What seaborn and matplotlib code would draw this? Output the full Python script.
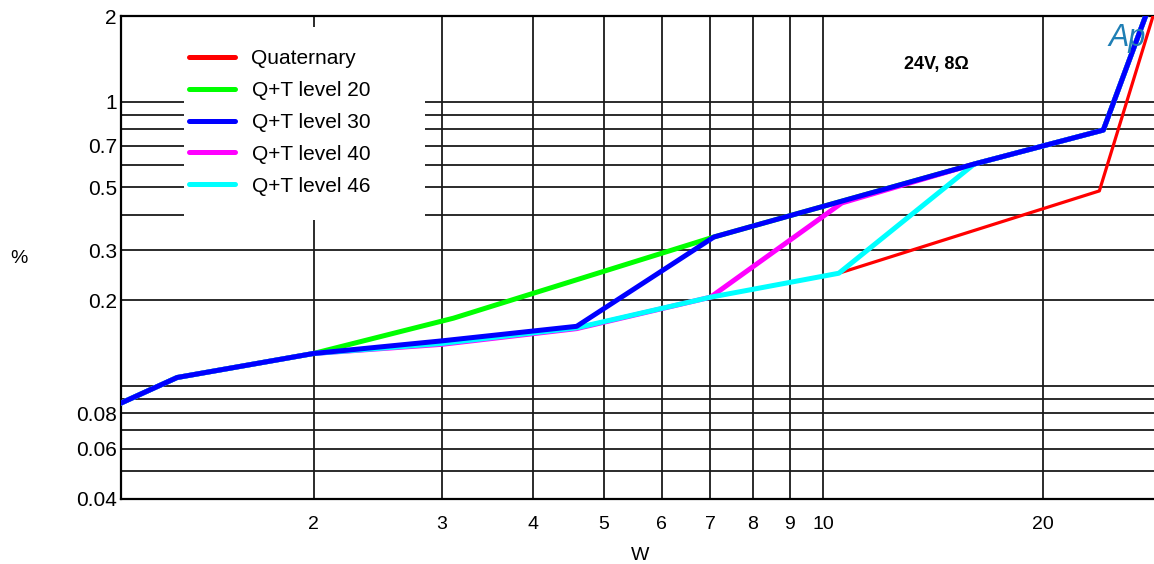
import matplotlib
matplotlib.use("Agg")
import matplotlib.pyplot as plt
import seaborn as sns
from matplotlib.patches import Rectangle

# output power (W) vs THD+N (%)
quat_w = [1.089, 1.30, 2.0, 3.0, 4.59, 7.0, 10.5, 23.9, 28.4]
quat_pct = [0.087, 0.107, 0.130, 0.142, 0.159, 0.205, 0.249, 0.485, 2.05]

lvl20_w = [1.089, 1.30, 2.0, 3.11, 7.08, 16.1, 24.2, 28.4]
lvl20_pct = [0.087, 0.107, 0.130, 0.173, 0.334, 0.603, 0.794, 2.4]

lvl30_w = [1.089, 1.30, 2.0, 3.0, 4.59, 7.08, 16.1, 24.2, 28.4]
lvl30_pct = [0.087, 0.107, 0.130, 0.144, 0.162, 0.334, 0.603, 0.794, 2.4]

lvl40_w = [1.089, 1.30, 2.0, 3.0, 4.59, 7.0, 10.6, 16.1, 24.2, 28.4]
lvl40_pct = [0.087, 0.107, 0.130, 0.140, 0.159, 0.205, 0.44, 0.603, 0.794, 2.4]

lvl46_w = [1.089, 1.30, 2.0, 3.0, 4.59, 7.0, 10.5, 16.1, 24.2, 28.4]
lvl46_pct = [0.087, 0.107, 0.130, 0.141, 0.160, 0.205, 0.249, 0.603, 0.794, 2.4]

x_ticks = [2, 3, 4, 5, 6, 7, 8, 9, 10, 20]
y_grid = [0.04, 0.05, 0.06, 0.07, 0.08, 0.09, 0.1,
          0.2, 0.3, 0.4, 0.5, 0.6, 0.7, 0.8, 0.9, 1, 2]
y_labeled = {0.04: "0.04", 0.06: "0.06", 0.08: "0.08", 0.2: "0.2",
             0.3: "0.3", 0.5: "0.5", 0.7: "0.7", 1: "1", 2: "2"}

sns.set_style("white")
plt.rcParams["font.family"] = ["Liberation Sans", "DejaVu Sans"]
plt.rcParams["text.color"] = "black"
plt.rcParams["axes.labelcolor"] = "black"
plt.rcParams["xtick.color"] = "black"
plt.rcParams["ytick.color"] = "black"

fig = plt.figure(figsize=(11.54, 5.64), dpi=100)
ax = fig.add_axes([121 / 1154, 65 / 564, 1033 / 1154, 483 / 564])

# drawing order: red at the bottom, blue on top
series = [
    ("Quaternary", quat_w, quat_pct, "#ff0000", 2.3),
    ("Q+T level 20", lvl20_w, lvl20_pct, "#00ff00", 3.6),
    ("Q+T level 40", lvl40_w, lvl40_pct, "#ff00ff", 3.6),
    ("Q+T level 46", lvl46_w, lvl46_pct, "#00ffff", 3.6),
    ("Q+T level 30", lvl30_w, lvl30_pct, "#0000ff", 3.6),
]
for name, xs, ys, col, lw in series:
    sns.lineplot(x=xs, y=ys, ax=ax, color=col, linewidth=lw, label=name,
                 sort=False, estimator=None, zorder=3)

ax.set_xscale("log")
ax.set_yscale("log")
ax.set_xlim(1.089, 28.4)
ax.set_ylim(0.04, 2)

ax.set_xticks(x_ticks)
ax.set_xticklabels([str(t) for t in x_ticks])
ax.set_yticks(y_grid)
ax.set_yticklabels([y_labeled.get(v, "") for v in y_grid])
ax.xaxis.set_minor_locator(matplotlib.ticker.NullLocator())
ax.yaxis.set_minor_locator(matplotlib.ticker.NullLocator())
ax.tick_params(axis="x", length=0, pad=12, labelsize=14)
ax.tick_params(axis="y", length=0, pad=3, labelsize=15)

ax.grid(True, which="major", color="#1a1a1a", linewidth=1.3)
ax.set_axisbelow(True)
for side in ["left", "top", "bottom"]:
    ax.spines[side].set_color("black")
    ax.spines[side].set_linewidth(1.6)
ax.spines["right"].set_visible(False)

ax.set_xlabel("W", fontsize=14, va="center")
ax.xaxis.set_label_coords(0.5024, -0.116)
ax.set_ylabel("%", fontsize=14, rotation=0, va="center", ha="center")
ax.yaxis.set_label_coords(-0.099, 0.497)

# white patch behind the legend that hides the grid
ax.add_patch(Rectangle((63 / 1033, 279 / 483), 241 / 1033, 193 / 483,
                       transform=ax.transAxes, facecolor="white",
                       edgecolor="none", zorder=2))

handles, labels = ax.get_legend_handles_labels()
order = ["Quaternary", "Q+T level 20", "Q+T level 30", "Q+T level 40", "Q+T level 46"]
hmap = dict(zip(labels, handles))
leg = ax.legend([hmap[k] for k in order], order, loc="upper left",
                bbox_to_anchor=(68 / 1033, (499 - 49) / 483), borderaxespad=0,
                frameon=False, fontsize=15, handlelength=2.2, handletextpad=0.8,
                labelspacing=0.62, borderpad=0)
for h in leg.get_lines():
    h.set_linewidth(3.6)

ax.text(0.789, 0.899, "24V, 8Ω", transform=ax.transAxes, fontsize=13,
        fontweight="bold", ha="center", va="center")
fig.text(1127 / 1154, 1 - 38 / 564, "Ap", color="#1f7fb5", fontsize=22,
         style="italic", ha="center", va="center")

fig.savefig("out.png", dpi=100)
